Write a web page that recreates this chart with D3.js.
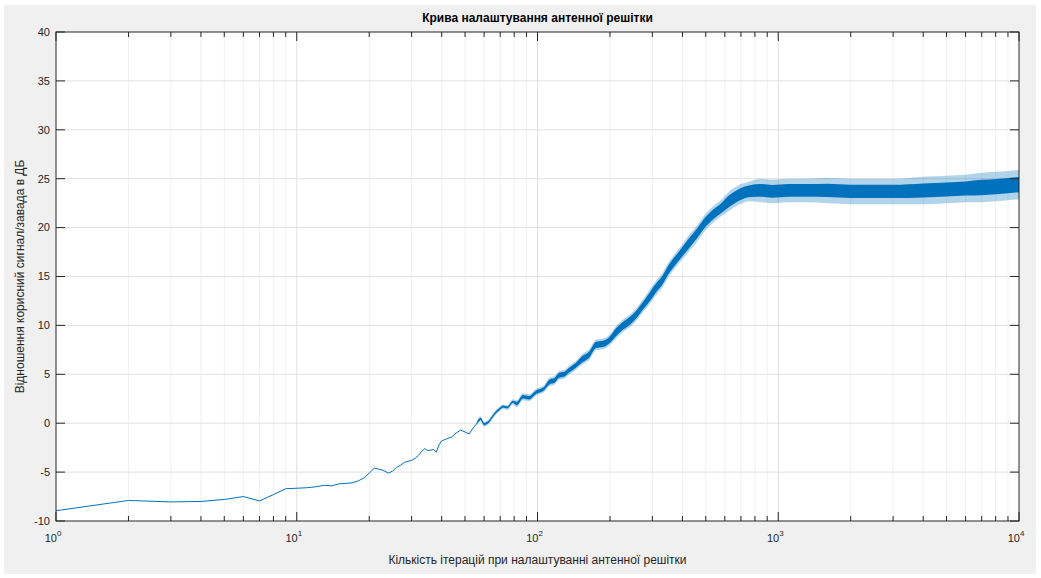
<!DOCTYPE html>
<html>
<head>
<meta charset="utf-8">
<script src="https://cdn.jsdelivr.net/npm/d3@7"></script>
<style>
  body { margin: 0; background: #fff; }
  svg { display: block; font-family: "Liberation Sans", Arial, sans-serif; }
</style>
</head>
<body>
<div id="chart"></div>
<script>
// Data
const iterX = [
    1, 2, 3, 4, 5, 6, 7, 8, 9, 10,
    11, 12, 13, 14, 15, 16, 17, 18, 19, 20,
    21, 22, 23, 24, 25, 26, 27, 28, 30, 31,
    32, 33, 34, 35, 37, 38, 39, 40, 42, 44,
    46, 48, 50, 52, 54, 56, 58, 60, 63, 66,
    70, 72, 75, 79, 82, 87, 92, 99, 106, 112,
    118, 123, 129, 135, 144, 153, 164, 175, 187, 199,
    212, 225, 240, 257, 274, 292, 310, 330, 346, 362,
    390, 426, 460, 500, 540, 580, 625, 670, 710, 754,
    850, 943, 1100, 1300, 1600, 2000, 2500, 3000, 4000, 5000,
    6000, 7000, 8000, 9000, 10000
];
const snrDb = [
    -8.95, -7.9, -8.05, -8.0, -7.8, -7.5, -7.95, -7.3, -6.7, -6.65,
    -6.6, -6.5, -6.35, -6.4, -6.2, -6.15, -6.1, -5.9, -5.6, -5.1,
    -4.6, -4.7, -4.85, -5.1, -4.9, -4.5, -4.3, -4.0, -3.8, -3.6,
    -3.3, -2.9, -2.6, -2.8, -2.7, -2.95, -2.2, -1.8, -1.6, -1.4,
    -1.0, -0.7, -0.9, -1.1, -0.5, 0.0, 0.45, -0.1, 0.2, 0.9,
    1.5, 1.7, 1.6, 2.2, 2.0, 2.7, 2.6, 3.2, 3.5, 4.2,
    4.4, 4.9, 5.0, 5.4, 5.9, 6.5, 7.0, 8.0, 8.1, 8.5,
    9.3, 9.9, 10.4, 11.1, 12.0, 12.9, 13.8, 14.6, 15.5, 16.2,
    17.2, 18.4, 19.4, 20.6, 21.4, 22.0, 22.7, 23.2, 23.5, 23.7,
    23.8, 23.7, 23.8, 23.8, 23.8, 23.7, 23.7, 23.7, 23.8, 23.9,
    24.0, 24.1, 24.2, 24.3, 24.4
];
// half width of the noise around the curve (dB), from this iteration on
const noiseFrom  = [56, 80, 110, 150, 200, 280, 400, 600, 800, 1500, 4000, 7000];
const noiseCore  = [0.1, 0.18, 0.25, 0.32, 0.4, 0.45, 0.5, 0.6, 0.65, 0.68, 0.72, 0.78];
const noiseSpike = [0.25, 0.35, 0.45, 0.55, 0.65, 0.75, 0.85, 1.0, 1.2, 1.3, 1.4, 1.5];

const yTicks = [-10, -5, 0, 5, 10, 15, 20, 25, 30, 35, 40];
const xDecades = [1, 10, 100, 1000, 10000];

const title = "Крива налаштування антенної решітки";
const xTitle = "Кількість ітерацій при налаштуванні антенної решітки";
const yTitle = "Відношення корисний сигнал/завада в ДБ";

const W = 1041, H = 578;
const pLeft = 56, pRight = 1019, pTop = 32, pBottom = 521;
const lineColor = "#0072BD";
const axisColor = "#262626";

const svg = d3.select("#chart")
    .append("svg")
    .attr("width", W)
    .attr("height", H);

// figure background
svg.append("rect")
    .attr("x", 4).attr("y", 5)
    .attr("width", 1032).attr("height", 569)
    .attr("fill", "#f0f0f0");

svg.append("rect")
    .attr("x", pLeft).attr("y", pTop)
    .attr("width", pRight - pLeft).attr("height", pBottom - pTop)
    .attr("fill", "#fff");

const x = d3.scaleLog().domain([1, 10000]).range([pLeft, pRight]);
const y = d3.scaleLinear().domain([-10, 40]).range([pBottom, pTop]);

// minor x values 2..9 of each decade
const xMinor = [];
xDecades.slice(0, -1).forEach(d => {
    for (let k = 2; k <= 9; k++) xMinor.push(d * k);
});

// grid
const grid = svg.append("g");
grid.selectAll(".gminor").data(xMinor).join("line")
    .attr("x1", d => x(d)).attr("x2", d => x(d))
    .attr("y1", pTop).attr("y2", pBottom)
    .attr("stroke", "#f0f0f0").attr("stroke-width", 1);
grid.selectAll(".gx").data(xDecades.slice(1, -1)).join("line")
    .attr("x1", d => x(d)).attr("x2", d => x(d))
    .attr("y1", pTop).attr("y2", pBottom)
    .attr("stroke", "#e0e0e0").attr("stroke-width", 1);
grid.selectAll(".gy").data(yTicks.slice(1, -1)).join("line")
    .attr("x1", pLeft).attr("x2", pRight)
    .attr("y1", d => y(d)).attr("y2", d => y(d))
    .attr("stroke", "#e0e0e0").attr("stroke-width", 1);

// noise bands
function noiseIndex(v) {
    return d3.bisectRight(noiseFrom, v) - 1;
}
const pts = iterX.map((v, i) => ({ it: v, db: snrDb[i] }))
    .filter(p => p.it >= noiseFrom[0]);

const spikeArea = d3.area()
    .x(p => x(p.it))
    .y0(p => y(p.db - noiseSpike[noiseIndex(p.it)]))
    .y1(p => y(p.db + noiseSpike[noiseIndex(p.it)]))
    .curve(d3.curveMonotoneX);
const coreArea = d3.area()
    .x(p => x(p.it))
    .y0(p => y(p.db - noiseCore[noiseIndex(p.it)]))
    .y1(p => y(p.db + noiseCore[noiseIndex(p.it)]))
    .curve(d3.curveMonotoneX);

svg.append("path").datum(pts)
    .attr("d", spikeArea)
    .attr("fill", lineColor).attr("opacity", 0.3);
svg.append("path").datum(pts)
    .attr("d", coreArea)
    .attr("fill", lineColor);

// main line
const line = d3.line()
    .x((d, i) => x(iterX[i]))
    .y(d => y(d));
svg.append("path").datum(snrDb)
    .attr("d", line)
    .attr("fill", "none")
    .attr("stroke", lineColor)
    .attr("stroke-width", 1);

// axes box and ticks
const ax = svg.append("g").attr("stroke", axisColor).attr("stroke-width", 1);
ax.append("rect")
    .attr("x", pLeft).attr("y", pTop)
    .attr("width", pRight - pLeft).attr("height", pBottom - pTop)
    .attr("fill", "none");

const majorLen = 9, minorLen = 5;
[[pBottom, -1], [pTop, 1]].forEach(([yy, dir]) => {
    ax.selectAll(null).data(xDecades).join("line")
        .attr("x1", d => x(d)).attr("x2", d => x(d))
        .attr("y1", yy).attr("y2", yy + dir * majorLen);
    ax.selectAll(null).data(xMinor).join("line")
        .attr("x1", d => x(d)).attr("x2", d => x(d))
        .attr("y1", yy).attr("y2", yy + dir * minorLen);
});
[[pLeft, 1], [pRight, -1]].forEach(([xx, dir]) => {
    ax.selectAll(null).data(yTicks).join("line")
        .attr("x1", xx).attr("x2", xx + dir * majorLen)
        .attr("y1", d => y(d)).attr("y2", d => y(d));
});

// tick labels
svg.selectAll(".ylab").data(yTicks).join("text")
    .attr("x", pLeft - 6)
    .attr("y", d => y(d))
    .attr("dy", "0.35em")
    .attr("text-anchor", "end")
    .attr("font-size", 11)
    .attr("fill", axisColor)
    .text(d => d);

const xl = svg.selectAll(".xlab").data(xDecades).join("text")
    .attr("x", d => x(d) - 3)
    .attr("y", pBottom + 21)
    .attr("text-anchor", "middle")
    .attr("font-size", 11)
    .attr("fill", axisColor);
xl.append("tspan").text("10");
xl.append("tspan")
    .attr("font-size", 8)
    .attr("dy", -6)
    .text(d => Math.round(Math.log10(d)));

// titles
svg.append("text")
    .attr("x", (pLeft + pRight) / 2)
    .attr("y", 22)
    .attr("text-anchor", "middle")
    .attr("font-size", 12)
    .attr("font-weight", "bold")
    .attr("fill", "#000")
    .text(title);

svg.append("text")
    .attr("x", (pLeft + pRight) / 2)
    .attr("y", 564)
    .attr("text-anchor", "middle")
    .attr("font-size", 12)
    .attr("fill", axisColor)
    .text(xTitle);

svg.append("text")
    .attr("transform", `translate(24, ${(pTop + pBottom) / 2}) rotate(-90)`)
    .attr("text-anchor", "middle")
    .attr("font-size", 12)
    .attr("fill", axisColor)
    .text(yTitle);
</script>
</body>
</html>
